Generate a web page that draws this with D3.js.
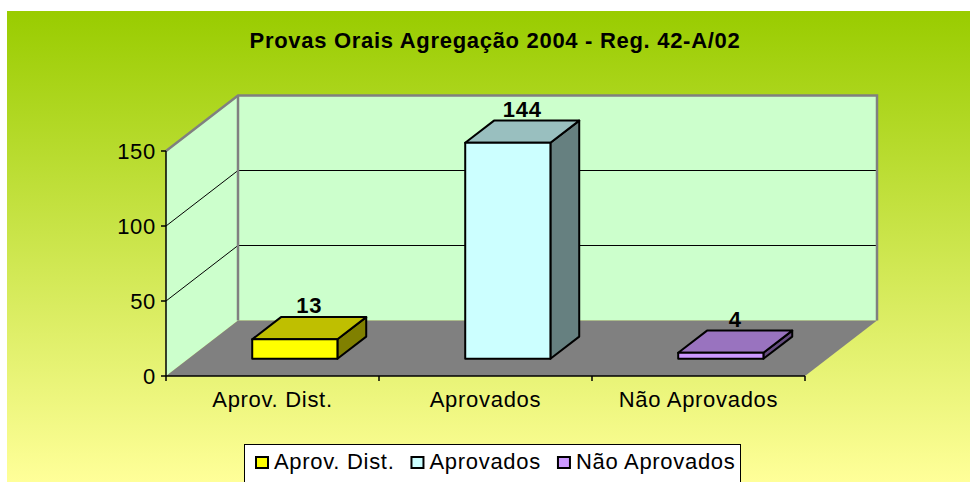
<!DOCTYPE html>
<html><head><meta charset="utf-8">
<script src="https://cdn.jsdelivr.net/npm/d3@7"></script>
<style>html,body{margin:0;padding:0;background:#fff;}svg{display:block;} text{letter-spacing:0.7px;}</style>
</head><body>
<svg id="c" width="970" height="482"></svg>
<script>
const title = "Provas Orais Agregação 2004 - Reg. 42-A/02";
const categories = ["Aprov. Dist.", "Aprovados", "Não Aprovados"];
const values = [13, 144, 4];
const colors = ["#ffff00", "#ccffff", "#cc99ff"];
const yTicks = [0, 50, 100, 150];

const svg = d3.select("#c");
const font = "Liberation Sans, Arial, sans-serif";

// background gradient
const defs = svg.append("defs");
const g = defs.append("linearGradient").attr("id","bg").attr("x1",0).attr("y1",0).attr("x2",0).attr("y2",1);
g.append("stop").attr("offset","0%").attr("stop-color","#99cc00");
g.append("stop").attr("offset","100%").attr("stop-color","#ffff99");
svg.append("rect").attr("x",7).attr("y",11).attr("width",963).attr("height",471).attr("fill","url(#bg)");

// geometry
const x0 = 166, x1 = 805, yBase = 376, yTop = 151;
const DX = 72, DY = -55.5;
const x = d3.scaleBand().domain(categories).range([x0, x1]).paddingInner(0).paddingOuter(0);
const y = d3.scaleLinear().domain([0, 150]).range([yBase, yTop]);
const off = d => [DX * d, DY * d];
const P = pts => "M" + pts.map(p => p.join(",")).join("L") + "Z";

// walls
const [bx, by] = off(1);
svg.append("path").attr("d", P([[x0, yBase],[x0+bx, yBase+by],[x0+bx, yTop+by],[x0, yTop]])).attr("fill","#ccffcc");
svg.append("path").attr("d", P([[x0+bx, yBase+by],[x1+bx, yBase+by],[x1+bx, yTop+by],[x0+bx, yTop+by]])).attr("fill","#ccffcc");
svg.append("path").attr("d", P([[x0, yBase],[x1, yBase],[x1+bx, yBase+by],[x0+bx, yBase+by]])).attr("fill","#808080");

// gridlines
yTicks.filter(t => t > 0 && t < 150).forEach(t => {
  svg.append("line").attr("x1",x0).attr("y1",y(t)).attr("x2",x0+bx).attr("y2",y(t)+by).attr("stroke","#000").attr("stroke-width",1);
  svg.append("line").attr("x1",x0+bx).attr("y1",y(t)+by).attr("x2",x1+bx).attr("y2",y(t)+by).attr("stroke","#000").attr("stroke-width",1);
});
// wall borders
svg.append("path").attr("d", `M${x0},${yTop}L${x0+bx},${yTop+by}L${x1+bx},${yTop+by}L${x1+bx},${yBase+by}`)
  .attr("fill","none").attr("stroke","#808080").attr("stroke-width",2.5);
svg.append("line").attr("x1",x0+bx).attr("y1",yTop+by).attr("x2",x0+bx).attr("y2",yBase+by).attr("stroke","#808080").attr("stroke-width",2.5);

// axes
svg.append("line").attr("x1",x0).attr("y1",yTop).attr("x2",x0).attr("y2",yBase).attr("stroke","#000").attr("stroke-width",1.5);
svg.append("line").attr("x1",x0).attr("y1",yBase).attr("x2",x1).attr("y2",yBase).attr("stroke","#000").attr("stroke-width",1.5);
yTicks.forEach(t => {
  svg.append("line").attr("x1",x0-5).attr("x2",x0).attr("y1",y(t)).attr("y2",y(t)).attr("stroke","#000").attr("stroke-width",1.5);
  svg.append("text").attr("x",x0-10).attr("y",y(t)).attr("dy","0.35em").attr("text-anchor","end")
    .attr("font-family",font).attr("font-size",22).text(t);
});
const bounds = categories.map(c => x(c)).concat([x1]);
bounds.forEach(b => svg.append("line").attr("x1",b).attr("x2",b).attr("y1",yBase).attr("y2",yBase+5).attr("stroke","#000").attr("stroke-width",1.5));
categories.forEach(c => svg.append("text").attr("x",x(c)+x.bandwidth()/2).attr("y",407).attr("text-anchor","middle")
  .attr("font-family",font).attr("font-size",22).text(c));

// bars
const d0 = 0.31, d1 = 0.71, bw = 0.40;
categories.forEach((c, i) => {
  const v = values[i];
  const col = d3.color(colors[i]);
  const L = x(c) + x.bandwidth()*(1-bw)/2, R = L + x.bandwidth()*bw;
  const [fx, fy] = off(d0), [kx, ky] = off(d1);
  const yb = y(0), yt = y(v);
  const front = [[L+fx, yb+fy],[R+fx, yb+fy],[R+fx, yt+fy],[L+fx, yt+fy]];
  const side = [[R+fx, yb+fy],[R+kx, yb+ky],[R+kx, yt+ky],[R+fx, yt+fy]];
  const top = [[L+fx, yt+fy],[R+fx, yt+fy],[R+kx, yt+ky],[L+kx, yt+ky]];
  const dark = k => d3.rgb(col.r*k, col.g*k, col.b*k).formatHex();
  svg.append("path").attr("d",P(side)).attr("fill",dark(0.5)).attr("stroke","#000").attr("stroke-width",2).attr("stroke-linejoin","round");
  svg.append("path").attr("d",P(top)).attr("fill",dark(0.75)).attr("stroke","#000").attr("stroke-width",2).attr("stroke-linejoin","round");
  svg.append("path").attr("d",P(front)).attr("fill",colors[i]).attr("stroke","#000").attr("stroke-width",2).attr("stroke-linejoin","round");
  svg.append("text").attr("x",(L+R)/2 + (fx+kx)/2).attr("y",yt+ky-4).attr("text-anchor","middle")
    .attr("font-family",font).attr("font-size",22).attr("font-weight","bold").text(v);
});

// title
svg.append("text").attr("x",495).attr("y",48).attr("text-anchor","middle").attr("font-family",font)
  .attr("font-size",22).attr("font-weight","bold").text(title);

// legend
const lg = svg.append("g");
lg.append("rect").attr("x",244.5).attr("y",444.5).attr("width",496).attr("height",50).attr("fill","#fff").attr("stroke","#000").attr("stroke-width",1);
let cx = 255;
categories.forEach((c, i) => {
  lg.append("rect").attr("x",cx+1).attr("y",457).attr("width",12).attr("height",11).attr("fill",colors[i]).attr("stroke","#000").attr("stroke-width",2);
  const t = lg.append("text").attr("x",cx+19).attr("y",469).attr("font-family",font).attr("font-size",22).text(c);
  cx = cx + 19 + t.node().getComputedTextLength() + 16;
});
</script>
</body></html>
